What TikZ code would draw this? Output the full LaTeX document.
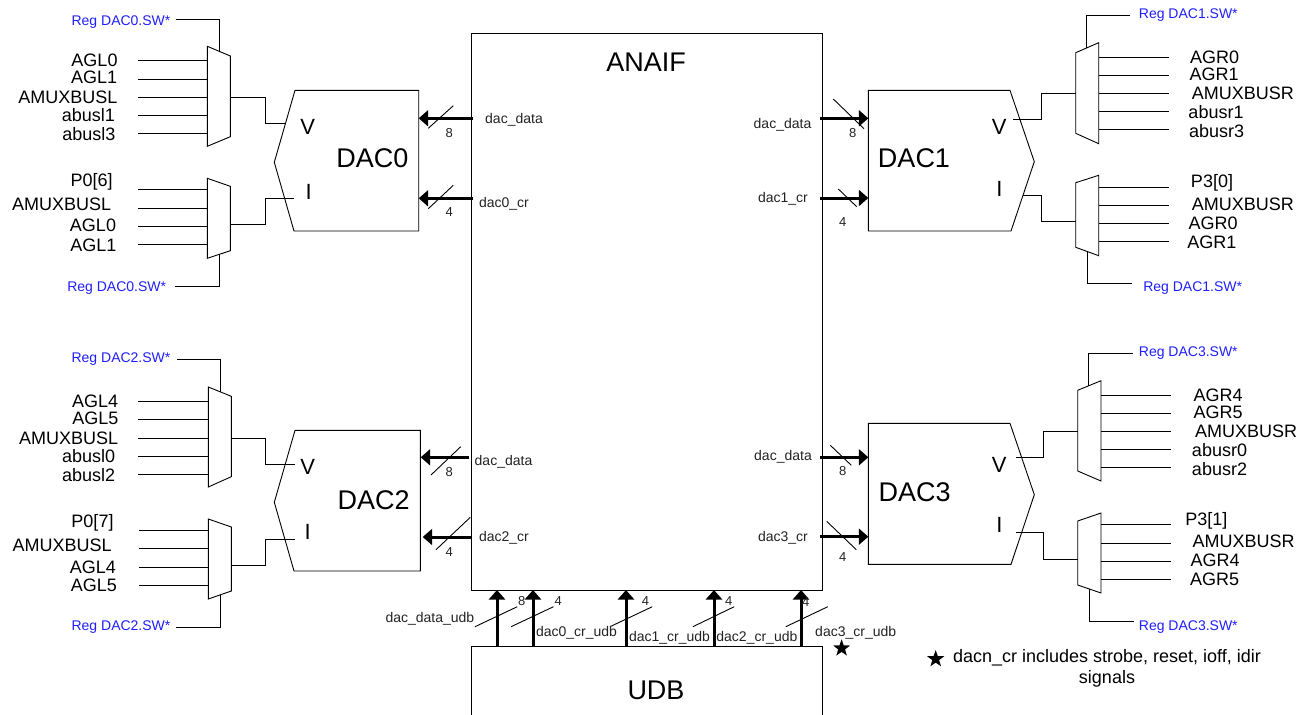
\documentclass[tikz,border=0pt]{standalone}
\usepackage{fontspec}
\setmainfont{Liberation Sans}
\usetikzlibrary{arrows.meta,shapes.geometric}
\definecolor{ink}{HTML}{000000}
\definecolor{regblue}{HTML}{1F1FFF}
\definecolor{ctrltext}{HTML}{222222}

\begin{document}
\begin{tikzpicture}[
  x=1pt,y=-1pt,
  every node/.style={inner sep=0pt,text=ink},
  wire/.style={draw=ink,line width=0.9pt},
  bus/.style={draw=ink,line width=3pt,-{Triangle[length=9.5pt,width=16pt]}},
  tick/.style={draw=ink,line width=0.9pt},
  signame/.style={font=\fontsize{18}{18}\selectfont},
  regname/.style={font=\fontsize{14}{14}\selectfont,text=regblue,yshift=-1.3pt},
  dacname/.style={font=\fontsize{27}{27}\selectfont},
  portname/.style={font=\fontsize{22}{22}\selectfont},
  busname/.style={font=\fontsize{14}{14}\selectfont,text=ctrltext,yshift=-1pt},
  widthname/.style={font=\fontsize{13}{13}\selectfont,text=ctrltext},
  notemark/.style={star,star points=5,star point ratio=2.5,fill=ink,minimum size=18pt}
]
\useasboundingbox (0,0) rectangle (1310,715);

\draw[wire] (471,33) coordinate (anaifa) rectangle (822,590) coordinate (anaifb);
\node[dacname] (anaif) at (646,62) {ANAIF};
\draw[wire] (471,715) -- (471,646) -- (822,646) -- (822,715);
\node[dacname] (udb) at (656,690) {UDB};

\foreach \mx/\xa/\xb/\ya/\yb/\yc/\yd in {
  a/207.3/230.3/46.3/56/136.7/146.3, b/207.3/230.3/178.3/186.3/250.7/258.3,
  e/208.3/231.3/387/396.3/476.7/487, f/208.3/231.3/519/527/591/599,
  c/1075.7/1098.7/52.7/42.7/143.7/133.3, d/1075.7/1098.7/182.7/175.3/255.7/247.3,
  g/1077.7/1101/390.3/380.7/481/471, h/1077.7/1101/521/513/593/585}
  \draw[wire] (\xa,\ya) coordinate (mux\mx) -- (\xb,\yb) -- (\xb,\yc) -- (\xa,\yd) -- cycle;

\foreach \dc/\xa/\xb/\xc/\xt/\ya/\ym/\yb in {
  0/295/418.7/294/274.3/90.3/162.3/231,
  2/295/420.3/294/274.3/430.3/502.3/571,
  1/1010/868.3/1011/1034.3/90.3/161.7/231,
  3/1010/868.3/1011/1034.3/423.3/494.7/564.3}
  \draw[wire] (\xb,\ya) coordinate (dacedge\dc) -- (\xa,\ya) -- (\xt,\ym) -- (\xc,\yb) -- (\xb,\yb) -- cycle;

\node[dacname] (dac0) at (372.3,158.7) {DAC0};
\node[dacname] (dac1) at (914,158.7) {DAC1};
\node[dacname] (dac2) at (373.7,499.7) {DAC2};
\node[dacname] (dac3) at (914.7,492.7) {DAC3};

\foreach \nm/\xx/\yy/\txt in {
  va/307.7/127/V, ia/308.7/192/I, ve/307.7/467/V, ie/307.7/532/I,
  vb/999.3/127/V, ib/999.3/189/I, vf/999.3/465/V, if/999.3/525/I}
  \node[portname] (port\nm) at (\xx,\yy) {\txt};

\foreach \id/\xa/\xb/\yy in {
  a1/138.3/207.3/60.7, a2/138.3/207.3/79.3, a3/138.3/207.3/97.3, a4/138.3/207.3/115.3, a5/138.3/207.3/133.3,
  b1/138.3/207.3/189.7, b2/138.3/207.3/208.3, b3/138.3/207.3/226.3, b4/138.3/207.3/244.3,
  e1/138.3/208.3/401.3, e2/138.3/208.3/419.3, e3/138.3/208.3/438, e4/138.3/208.3/456, e5/138.3/208.3/474,
  f1/139/208.3/530.7, f2/139/208.3/548.3, f3/139/208.3/567.3, f4/139/208.3/585.3,
  c1/1168.7/1098.7/57.7, c2/1168.7/1098.7/75.7, c3/1168.7/1098.7/93.7, c4/1168.7/1098.7/111.7, c5/1168.7/1098.7/129.7,
  d1/1168.7/1098.7/187, d2/1168.7/1098.7/205, d3/1168.7/1098.7/223, d4/1168.7/1098.7/241,
  g1/1170.7/1101/395.7, g2/1170.7/1101/413.7, g3/1170.7/1101/431.7, g4/1170.7/1101/449.7, g5/1170.7/1101/467.7,
  h1/1170.7/1101/524.7, h2/1170.7/1101/543, h3/1170.7/1101/561, h4/1170.7/1101/579} {
  \coordinate (in\id) at (\xa,\yy);
  \coordinate (pin\id) at (\xb,\yy);
  \draw[wire] (in\id) -- (pin\id);
}

\foreach \id/\xx/\yy/\txt in {
  a1/94.5/60.7/AGL0, a2/94.2/77.7/AGL1, a3/68/97.7/AMUXBUSL, a4/88.3/115/abusl1, a5/88.8/134/abusl3,
  b1/91.7/182/{P0[6]}, b2/61.7/204.3/AMUXBUSL, b3/93/225.7/AGL0, b4/93.3/245.7/AGL1,
  e1/95.2/401.7/AGL4, e2/95.3/418.7/AGL5, e3/68.7/438/AMUXBUSL, e4/88.7/456/abusl0, e5/88.7/475/abusl2,
  f1/92.5/523.3/{P0[7]}, f2/62.2/545.7/AMUXBUSL, f3/92.8/567/AGL4, f4/93.8/585.7/AGL5,
  c1/1214.5/57.7/AGR0, c2/1214/74.7/AGR1, c3/1242.8/93.7/AMUXBUSR, c4/1216/112/abusr1, c5/1216.7/131/abusr3,
  d1/1212/183.3/{P3[0]}, d2/1242.8/204.7/AMUXBUSR, d3/1213/223/AGR0, d4/1211.8/242.7/AGR1,
  g1/1218/395.3/AGR4, g2/1218/412.7/AGR5, g3/1246/431.7/AMUXBUSR, g4/1219.5/450.3/abusr0, g5/1219.5/469.3/abusr2,
  h1/1206.3/520.7/{P3[1]}, h2/1243.7/541.7/AMUXBUSR, h3/1215/560.7/AGR4, h4/1214.5/579.7/AGR5}
  \node[signame] (sig\id) at (\xx,\yy) {\txt};

\foreach \id/\xa/\ya/\xb/\yb/\xc/\yc in {
  a/230.3/97.3/265.7/123.7/285/123.7, b/230.3/224.3/265.7/198.3/294/198.3,
  e/231.3/438/265.7/464.3/295/464.3, f/231.3/565.3/265.7/539/295/539,
  c/1075.7/93.7/1041.3/119.7/1012.7/119.7, d/1075.7/221.7/1041.3/195.7/1023.3/195.7,
  g/1077.7/431.7/1043.3/457.7/1015.7/457.7, h/1077.7/559/1043.3/532.7/1015.7/532.7} {
  \coordinate (muxout\id) at (\xa,\ya);
  \coordinate (bend\id) at (\xb,\yb);
  \coordinate (port\id) at (\xc,\yc);
  \draw[wire] (muxout\id) -| (bend\id) -- (port\id);
}

\foreach \id/\xa/\ya/\yb/\xc/\xt/\yt/\txt in {
  a/219.7/50.5/19/175.7/121/20.7/Reg DAC0.SW*, b/219/254/286.3/175/116.7/286.7/Reg DAC0.SW*,
  e/220.3/391.5/359/176.7/121/358/Reg DAC2.SW*, f/220/595/627/175.7/121/625.7/Reg DAC2.SW*,
  c/1086.3/48/15.3/1130/1188.3/13.3/Reg DAC1.SW*, d/1087.3/251.5/283/1131.7/1192.7/286.7/Reg DAC1.SW*,
  g/1088.7/385.5/353.7/1133.3/1188.3/351.3/Reg DAC3.SW*, h/1089.7/589/621/1134/1188.3/625.3/Reg DAC3.SW*} {
  \node[regname] (reg\id) at (\xt,\yt) {\txt};
  \coordinate (selpin\id) at (\xa,\ya);
  \coordinate (selend\id) at (\xc,\yb);
  \draw[wire] (selpin\id) |- (selend\id);
}

\foreach \id/\xa/\xb/\yy in {
  p/473.3/418.7/118.3, q/473.3/418.7/198.3, r/469.3/420.7/457.3, s/472/422.7/537,
  t/820/868.3/118.3, u/820/868.3/198, v/820/868.3/457.3, w/820/868.3/536.7} {
  \coordinate (busstart\id) at (\xa,\yy);
  \coordinate (busend\id) at (\xb,\yy);
  \draw[bus] (busstart\id) -- (busend\id);
}

\foreach \id/\xx in {k/497, l/533, m/626, n/714, o/801} {
  \coordinate (busstart\id) at (\xx,646);
  \coordinate (busend\id) at (\xx,590);
  \draw[bus] (busstart\id) -- (busend\id);
}

\foreach \id/\xa/\ya/\xb/\yb in {
  p/428.3/128.3/453.3/105.7, q/428.3/208.7/453.3/185.3, r/431/475/460.7/446.7, s/436/549.7/470.3/517.3,
  t/833.3/99/864/128.7, u/838.3/189/856.7/206.7, v/830.3/445.3/851.3/465.3, w/826.7/521.3/856.3/549.7,
  k/475/626.7/517.3/606.7, l/511.1/626.7/553.5/606.7, m/610/626.7/652.3/606.7,
  n/692.9/626.7/734.2/606.7, o/785.8/626.7/827.8/606.7} {
  \coordinate (ticka\id) at (\xa,\ya);
  \coordinate (tickb\id) at (\xb,\yb);
  \draw[tick] (ticka\id) -- (tickb\id);
}

\foreach \id/\xx/\yy/\txt in {
  p/449.3/132.7/8, q/449.3/212.3/4, r/449.3/471.7/8, s/449.3/551.7/4,
  t/852.7/132.7/8, u/842.7/222.3/4, v/842.7/471.3/8, w/842.7/556.7/4,
  k/521.8/600.7/8, l/558.3/600.7/4, m/645.4/600.7/4, n/728.7/600.7/4, o/805.8/601.7/4}
  \node[widthname] (width\id) at (\xx,\yy) {\txt};

\foreach \id/\xx/\yy/\txt in {
  p/514/118.7/dac\_data, q/504/202.7/dac0\_cr, r/503.5/461/dac\_data, s/504/536.5/dac2\_cr,
  t/782.5/124/dac\_data, u/783/198/dac1\_cr, v/783/456/dac\_data, w/783/536.5/dac3\_cr,
  k/429.9/617.7/dac\_data\_udb, l/576.5/631.7/dac0\_cr\_udb, m/669.5/636.7/dac1\_cr\_udb,
  n/756.9/636.7/dac2\_cr\_udb, o/855.7/632/dac3\_cr\_udb}
  \node[busname] (bus\id) at (\xx,\yy) {\txt};

\node[notemark] (starudb) at (841.6,648.3) {};
\node[notemark] (starnote) at (935.7,659) {};
\node[signame,align=center,font=\fontsize{18}{21.5}\selectfont] (note) at (1107,668.5) {dacn\_cr includes strobe, reset, ioff, idir\\signals};
\end{tikzpicture}
\end{document}
